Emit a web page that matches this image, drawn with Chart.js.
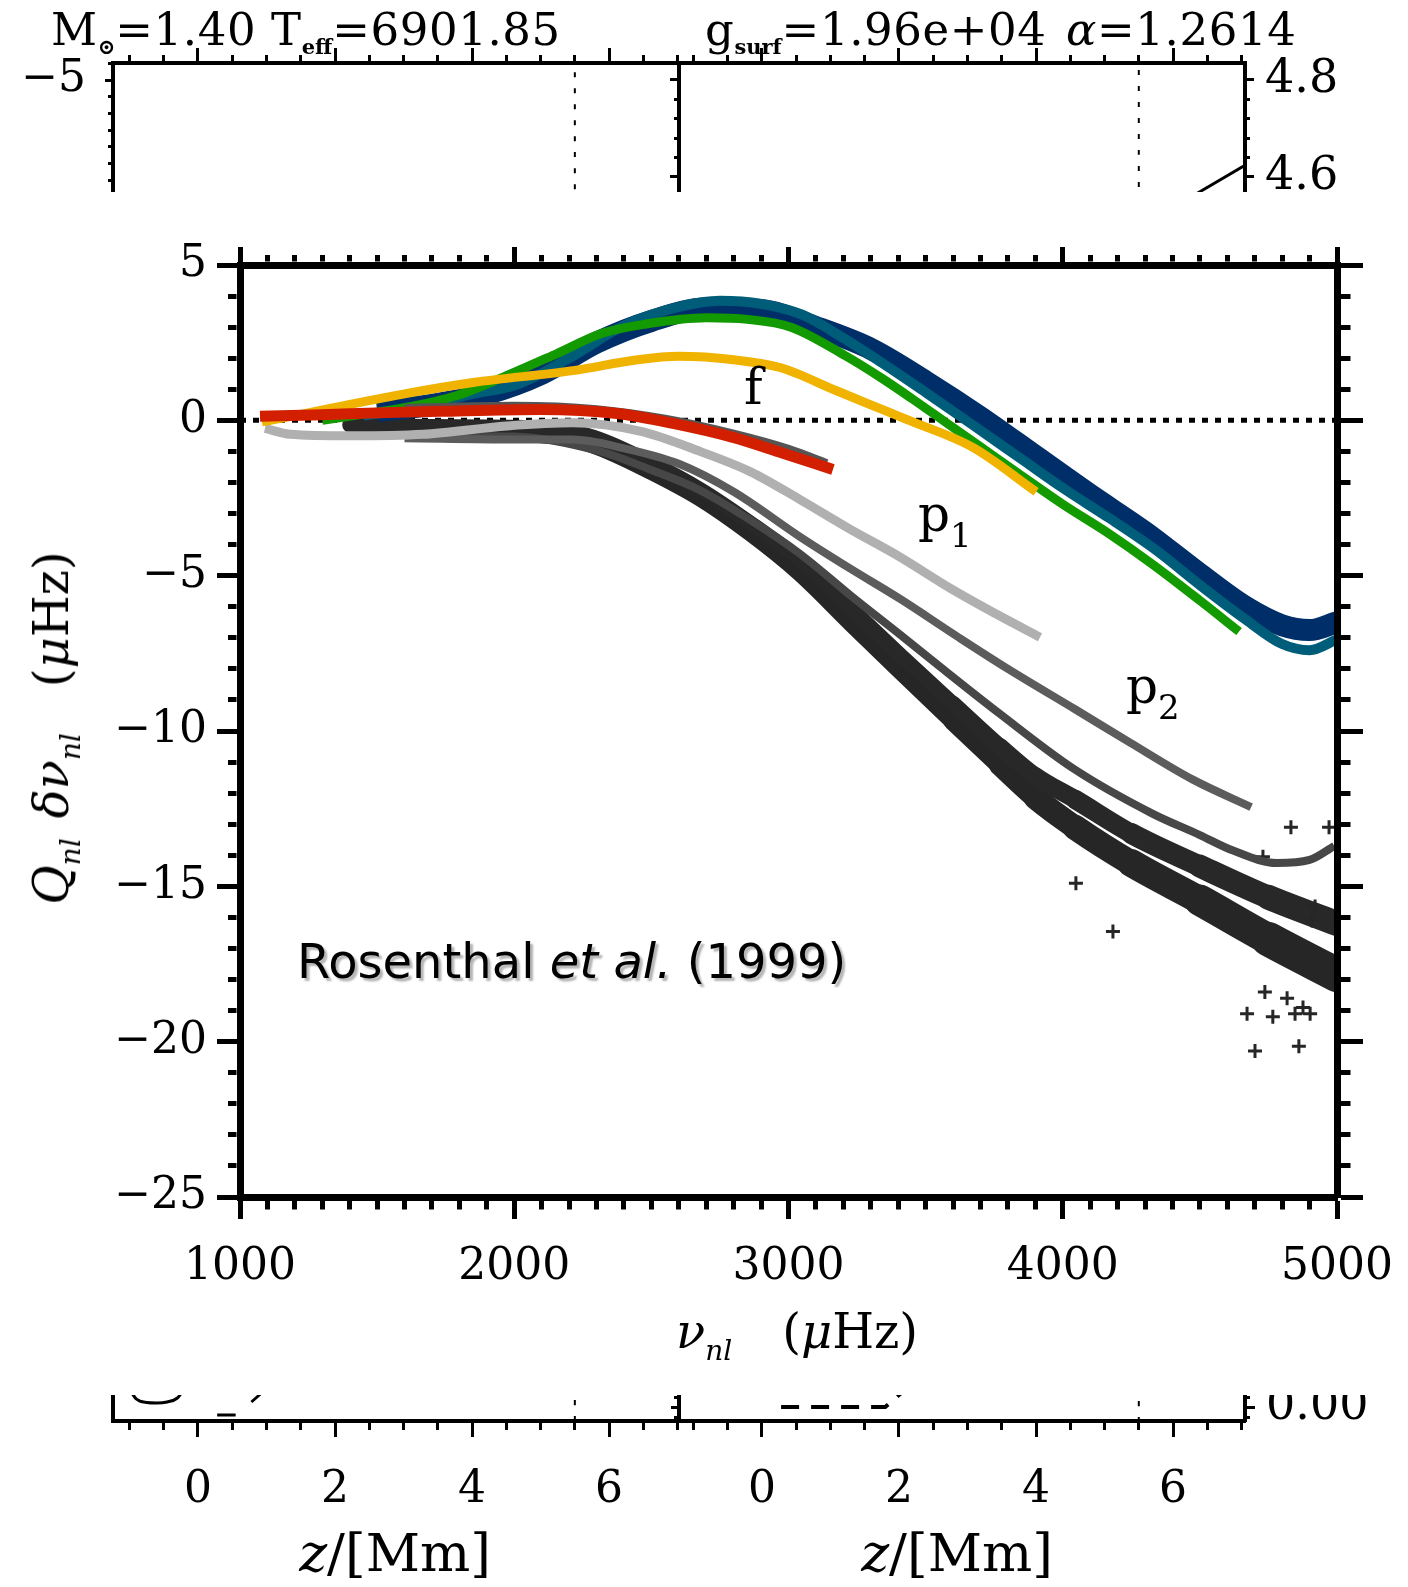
<!DOCTYPE html>
<html>
<head>
<meta charset="utf-8">
<script src="https://cdn.jsdelivr.net/npm/chart.js@4.4.1/dist/chart.umd.min.js"></script>
<style>
    html, body { margin: 0; padding: 0; background: #fff; }
    #page { position: relative; width: 1408px; height: 1587px; overflow: hidden; background: #fff; color: #000; font-family: 'DejaVu Serif', serif; }
    canvas { position: absolute; }
    .txt { position: absolute; white-space: nowrap; line-height: 1; z-index: 3; }
    .hdr { font-size: 45px; top: 7px; letter-spacing: 0.6px; }
    .sb { font-size: 21px; position: relative; top: 9px; font-weight: bold; letter-spacing: 0; }
    .ttl { font-size: 48px; }
    .ttl sub { font-size: 28px; vertical-align: -12px; font-style: italic; line-height: 0; }
    .lab { font-size: 50px; }
    .lab sub { font-size: 34px; vertical-align: -16px; line-height: 0; }
    .zlab { font-size: 53px; transform: translate(-50%, -50%); }
</style>
</head>
<body>
<div id="page">
    <canvas id="topLeft" width="679" height="400" style="left:0;top:0;z-index:1"></canvas>
    <canvas id="topRight" width="808" height="400" style="left:600px;top:0;z-index:1"></canvas>
    <canvas id="botLeft" width="679" height="287" style="left:0;top:1300px;z-index:1"></canvas>
    <canvas id="botRight" width="808" height="287" style="left:600px;top:1300px;z-index:1"></canvas>
    <canvas id="mainChart" width="1408" height="1203" style="left:0;top:192px;z-index:2;background:#fff"></canvas>

    <div class="txt hdr" style="left:51px">M<span class="sb">⊙</span>=1.40</div>
    <div class="txt hdr" style="left:271px">T<span class="sb">eff</span>=6901.85</div>
    <div class="txt hdr" style="left:705px">g<span class="sb">surf</span>=1.96e+04</div>
    <div class="txt hdr" style="left:1066px"><i>α</i>=1.2614</div>

    <div class="txt ttl" style="left:51px;top:728px;transform:translate(-50%,-50%) rotate(-90deg)"><i>Q</i><sub>nl</sub><span style="margin-left:20px"><i>δν</i><sub>nl</sub></span><span style="margin-left:46px">(<i>μ</i>Hz)</span></div>
    <div class="txt ttl" style="left:797px;top:1331px;transform:translate(-50%,-50%)"><i>ν</i><sub>nl</sub><span style="margin-left:50px">(<i>μ</i>Hz)</span></div>

    <div class="txt lab" style="left:744px;top:362px">f</div>
    <div class="txt lab" style="left:918px;top:489px">p<sub>1</sub></div>
    <div class="txt lab" style="left:1126px;top:661px">p<sub>2</sub></div>
    <div class="txt" style="left:297px;top:937px;font-family:'DejaVu Sans',sans-serif;font-size:48px;text-shadow:3px 3px 2px #b5b5b5">Rosenthal <i>et al.</i> (1999)</div>

    <div class="txt zlab" style="left:395px;top:1552px"><i>z</i>/[Mm]</div>
    <div class="txt zlab" style="left:957px;top:1552px"><i>z</i>/[Mm]</div>
</div>

<script>
// main panel: surface term Q_nl * delta nu_nl against nu_nl (muHz)
const redNu = [1073, 1300, 1500, 1729, 2094, 2375, 2579, 2798, 2980, 3162];
const redQ = [0.13, 0.18, 0.24, 0.29, 0.35, 0.22, -0.1, -0.55, -1.06, -1.58];
const redEdgeNu = [1600, 2000, 2300, 2550, 2800, 3000, 3140];
const redEdgeQ = [0.4, 0.47, 0.36, 0.05, -0.43, -0.92, -1.38];
const orangeNu = [1080, 1200, 1365, 1609, 1850, 2214, 2450, 2600, 2800, 2969, 3173, 3300, 3430, 3672, 3903];
const orangeQ = [-0.05, 0.15, 0.45, 0.87, 1.22, 1.6, 1.95, 2.06, 1.95, 1.7, 0.96, 0.5, 0.03, -0.87, -2.3];
const greenNu = [1300, 1450, 1609, 1791, 1962, 2156, 2320, 2480, 2700, 2850, 3009, 3213, 3341, 3450, 3571, 3700, 3837, 4000, 4169, 4330, 4500, 4643];
const greenQ = [0.0, 0.2, 0.42, 0.8, 1.4, 2.15, 2.8, 3.1, 3.3, 3.25, 3.0, 2.05, 1.35, 0.7, -0.05, -0.85, -1.7, -2.7, -3.65, -4.65, -5.8, -6.8];
const tealNu = [1450, 1600, 1850, 2010, 2200, 2400, 2600, 2750, 2900, 3050, 3200, 3341, 3500, 3672, 3850, 4004, 4170, 4336, 4500, 4665, 4800, 4900, 5000];
const tealQ = [0.15, 0.35, 0.85, 1.15, 2.0, 3.05, 3.65, 3.85, 3.75, 3.4, 2.65, 1.85, 0.9, -0.15, -1.25, -2.2, -3.15, -4.15, -5.3, -6.4, -7.2, -7.4, -7.05];
const navyNu = [1500, 1700, 1900, 2100, 2300, 2500, 2700, 2900, 3100, 3300, 3500, 3700, 3900, 4100, 4300, 4500, 4665, 4800, 4900, 5000];
const navyQ = [0.3, 0.5, 0.85, 1.5, 2.5, 3.2, 3.6, 3.55, 3.0, 2.3, 1.25, 0.1, -1.15, -2.4, -3.6, -4.95, -6.0, -6.6, -6.75, -6.5];
const lightNu = [1091, 1182, 1400, 1667, 1974, 2214, 2458, 2677, 2860, 3042, 3224, 3407, 3589, 3771, 3917];
const lightQ = [-0.26, -0.45, -0.5, -0.45, -0.18, -0.08, -0.35, -1.0, -1.65, -2.55, -3.5, -4.4, -5.4, -6.3, -6.98];
const midNu = [1600, 2000, 2214, 2400, 2600, 2800, 3042, 3230, 3407, 3614, 3800, 4045, 4250, 4471, 4687];
const midQ = [-0.58, -0.62, -0.62, -0.9, -1.4, -2.3, -3.75, -4.8, -5.75, -6.95, -8.0, -9.3, -10.4, -11.55, -12.45];
const lowNu = [1700, 2000, 2313, 2500, 2677, 2850, 3042, 3228, 3407, 3541, 3771, 4037, 4325, 4500, 4621, 4780, 4900, 4990];
const lowQ = [-0.5, -0.52, -1.0, -1.6, -2.25, -3.15, -4.3, -5.65, -6.9, -7.85, -9.45, -11.2, -12.65, -13.35, -13.85, -14.25, -14.15, -13.7];
const darkUpNu = [1400, 1700, 2000, 2200, 2313, 2500, 2677, 2860, 3042, 3230, 3407, 3600, 3771, 3900, 4045, 4250, 4500, 4750, 5000];
const darkUpQ = [-0.15, -0.2, -0.22, -0.35, -0.62, -1.37, -2.22, -3.3, -4.5, -6.07, -7.55, -9.12, -10.5, -11.45, -12.2, -13.3, -14.35, -15.35, -16.2];
const darkLoNu = [1600, 1900, 2100, 2200, 2313, 2500, 2677, 2860, 3042, 3230, 3407, 3600, 3771, 3900, 4045, 4250, 4500, 4750, 5000];
const darkLoQ = [-0.3, -0.35, -0.45, -0.55, -0.86, -1.63, -2.48, -3.6, -4.9, -6.53, -8.05, -9.68, -11.1, -12.15, -13.1, -14.25, -15.45, -16.7, -17.85];
const strayNu = [4048, 4183, 4832, 4971, 4730, 4737, 4672, 4766, 4847, 4902, 4701, 4861, 4876, 4818, 4920, 4909];
const strayQ = [-14.9, -16.45, -13.1, -13.1, -14.05, -18.4, -19.1, -19.2, -19.1, -19.1, -20.3, -20.15, -18.9, -18.6, -15.65, -16.1];
const zeroNu = [1000, 5000];
const zeroQ = [0, 0];

// strips above and below: cut-off z/[Mm] panels
const tlDotZ = [5.5, 5.5], tlDotY = [-24, -4];
const trDotZ = [5.5, 5.5], trDotY = [4.15, 4.83];
const trRiseZ = [6.0, 7.05], trRiseY = [4.537, 4.624];
const blArcZ = [-1.0, -0.9, -0.75, -0.6, -0.45, -0.3, -0.2];
const blArcY = [0.32, 0.22, 0.185, 0.18, 0.19, 0.23, 0.32];
const blBitAZ = [0.28, 0.55], blBitAY = [0.06, 0.06];
const blBitBZ = [0.78, 0.96], blBitBY = [0.19, 0.30];
const blDotZ = [5.5, 5.5], blDotY = [0, 1.2];
const brDashZ = [0.28, 1.8, 2.05], brDashY = [0, 0, 0.03];
const brDotZ = [5.5, 5.5], brDotY = [-0.03, 0.22];

const SERIF = 'DejaVu Serif';

function pts(xs, ys) {
    return xs.map((x, i) => ({ x, y: ys[i] }));
}

function curve(xs, ys, color, width, order, extra) {
    return Object.assign({
        data: pts(xs, ys), showLine: true, borderColor: color, backgroundColor: color,
        borderWidth: width, pointRadius: 0, pointHoverRadius: 0,
        cubicInterpolationMode: 'monotone', borderCapStyle: 'butt', order
    }, extra || {});
}

// the dark scatter band gets wider towards high frequency
function widening(base, extra) {
    return {
        borderCapStyle: 'round', borderJoinStyle: 'round',
        segment: { borderWidth: c => base + extra * Math.max(0, (c.p0.parsed.x - 3500) / 1500) }
    };
}

// ticks outside the frame; minor ticks are cut short with a dash pattern
function tickGrid(len, minorLen, width, borderW, outerFirst, isMajor) {
    const half = borderW / 2;
    const L = len - half, m = minorLen - half, G = 300;
    const major = c => !c.tick || isMajor(c.tick.value);
    return {
        display: true, drawOnChartArea: false, drawTicks: true, color: '#000',
        tickLength: len, tickWidth: width, tickColor: '#000',
        tickBorderDash: c => major(c) ? [] : [m, G],
        tickBorderDashOffset: c => (major(c) || !outerFirst) ? 0 : 2 * m + G - L
    };
}

function frameAxis(o) {
    const outer = o.position === 'top' || o.position === 'left';
    return {
        type: 'linear', position: o.position, min: o.min, max: o.max,
        afterFit: s => {
            if (s.isHorizontal()) s.height = o.size; else s.width = o.size;
            s.paddingLeft = s.paddingRight = s.paddingTop = s.paddingBottom = 0;
        },
        border: { display: true, width: o.border, color: '#000', z: 1 },
        grid: o.noTicks ? { display: false, drawOnChartArea: false } : tickGrid(o.tick[0], o.tick[1], o.tick[2], o.border, outer, o.major),
        ticks: {
            stepSize: o.step, autoSkip: false, maxRotation: 0, minRotation: 0, includeBounds: false,
            padding: o.pad || 0, color: '#000',
            font: { family: SERIF, size: o.fontSize || 44 },
            callback: v => (o.label && o.major(v)) ? o.label(v) : ''
        }
    };
}

const baseOptions = {
    responsive: false, animation: false, events: [],
    layout: { padding: 0 },
    plugins: { legend: { display: false }, tooltip: { enabled: false } }
};

const isThousand = v => v % 1000 === 0;
const isFive = v => v % 5 === 0;
const isEvenZ = v => v >= 0 && v % 2 === 0;
const minusLabel = v => v < 0 ? '\u2212' + Math.abs(v) : String(v);

new Chart(document.getElementById('mainChart'), {
    type: 'scatter',
    data: {
        datasets: [
            curve(redNu, redQ, '#d21f00', 11, 1),
            curve(redEdgeNu, redEdgeQ, '#555555', 8, 2),
            curve(orangeNu, orangeQ, '#efb300', 9, 3),
            curve(greenNu, greenQ, '#129a00', 9, 4),
            curve(tealNu, tealQ, '#005d7a', 10, 5),
            curve(navyNu, navyQ, '#002e68', 22, 6),
            curve(lightNu, lightQ, '#b0b0b0', 9, 7),
            curve(midNu, midQ, '#5c5c5c', 8, 8),
            curve(lowNu, lowQ, '#474747', 8, 9),
            { data: pts(strayNu, strayQ), showLine: false, pointStyle: 'cross', pointRadius: 7, borderWidth: 3, borderColor: '#262626', order: 10 },
            curve(darkUpNu, darkUpQ, '#282828', 15, 11, widening(15, 12)),
            curve(darkLoNu, darkLoQ, '#262626', 18, 12, widening(18, 20)),
            curve(zeroNu, zeroQ, '#000', 5, 20, { borderDash: [6, 7], cubicInterpolationMode: 'default', tension: 0 })
        ]
    },
    options: Object.assign({}, baseOptions, {
        scales: {
            x: frameAxis({ position: 'bottom', min: 1000, max: 5000, step: 100, size: 198, border: 7, tick: [22, 12, 5], major: isThousand, label: v => String(v), pad: 22 }),
            x2: frameAxis({ position: 'top', min: 1000, max: 5000, step: 100, size: 73, border: 7, tick: [18, 10, 5], major: isThousand }),
            y: frameAxis({ position: 'left', min: -25, max: 5, step: 1, size: 240, border: 7, tick: [23, 12, 5], major: isFive, label: minusLabel, pad: 10 }),
            y2: frameAxis({ position: 'right', min: -25, max: 5, step: 1, size: 71, border: 7, tick: [26, 13, 5], major: isFive })
        }
    })
});

new Chart(document.getElementById('topLeft'), {
    type: 'scatter',
    data: { datasets: [curve(tlDotZ, tlDotY, '#000', 2, 1, { borderDash: [5, 11] })] },
    options: Object.assign({}, baseOptions, {
        scales: {
            x: frameAxis({ position: 'top', min: -1.24, max: 7.02, step: 0.5, size: 63, border: 4, tick: [15, 8, 3], major: isEvenZ }),
            y: frameAxis({ position: 'left', min: -24.16, max: -3.98, step: 1, size: 113, border: 4, tick: [8, 5, 3], major: v => (v + 5) % 10 === 0, label: minusLabel, pad: 19 })
        }
    })
});

const isTenthPair = v => Math.abs(v * 5 - Math.round(v * 5)) < 1e-6;
new Chart(document.getElementById('topRight'), {
    type: 'scatter',
    data: {
        datasets: [
            curve(trDotZ, trDotY, '#000', 2, 1, { borderDash: [5, 11], yAxisID: 'yr' }),
            curve(trRiseZ, trRiseY, '#000', 3, 2, { yAxisID: 'yr', cubicInterpolationMode: 'default', tension: 0 })
        ]
    },
    options: Object.assign({}, baseOptions, {
        scales: {
            x: frameAxis({ position: 'top', min: -1.21, max: 7.05, step: 0.5, size: 63, border: 4, tick: [15, 8, 3], major: isEvenZ }),
            y: frameAxis({ position: 'left', min: 4.14, max: 4.835, step: 0.04, size: 79, border: 4, tick: [9, 5, 3], major: isTenthPair }),
            yr: frameAxis({ position: 'right', min: 4.14, max: 4.835, step: 0.04, size: 163, border: 4, tick: [9, 5, 3], major: isTenthPair, label: v => v.toFixed(1), pad: 11, fontSize: 46 })
        }
    })
});

new Chart(document.getElementById('botLeft'), {
    type: 'scatter',
    data: {
        datasets: [
            curve(blArcZ, blArcY, '#000', 3, 1),
            curve(blBitAZ, blBitAY, '#000', 3, 2),
            curve(blBitBZ, blBitBY, '#000', 3, 3),
            curve(blDotZ, blDotY, '#000', 2, 4, { borderDash: [5, 11] })
        ]
    },
    options: Object.assign({}, baseOptions, {
        scales: {
            x: frameAxis({ position: 'bottom', min: -1.24, max: 7.02, step: 0.5, size: 166, border: 4, tick: [16, 9, 3], major: isEvenZ, label: v => String(v), pad: 27 }),
            y: frameAxis({ position: 'left', min: 0, max: 1.21, step: 0.1, size: 113, border: 4, noTicks: true, major: () => false })
        }
    })
});

const isTenth = v => Math.abs(v * 10 - Math.round(v * 10)) < 1e-6;
new Chart(document.getElementById('botRight'), {
    type: 'scatter',
    data: {
        datasets: [
            curve(brDashZ, brDashY, '#000', 4, 1, { borderDash: [18, 12], yAxisID: 'yr', cubicInterpolationMode: 'default', tension: 0 }),
            curve(brDotZ, brDotY, '#000', 2, 2, { borderDash: [5, 11], yAxisID: 'yr' })
        ]
    },
    options: Object.assign({}, baseOptions, {
        scales: {
            x: frameAxis({ position: 'bottom', min: -1.21, max: 7.05, step: 0.5, size: 166, border: 4, tick: [16, 9, 3], major: isEvenZ, label: v => String(v), pad: 27 }),
            y: frameAxis({ position: 'left', min: -0.028, max: 0.214, step: 0.02, size: 79, border: 4, tick: [8, 5, 3], major: isTenth }),
            yr: frameAxis({ position: 'right', min: -0.028, max: 0.214, step: 0.02, size: 163, border: 4, tick: [10, 5, 3], major: isTenth, label: v => v.toFixed(2), pad: 11, fontSize: 46 })
        }
    })
});
</script>
</body>
</html>
